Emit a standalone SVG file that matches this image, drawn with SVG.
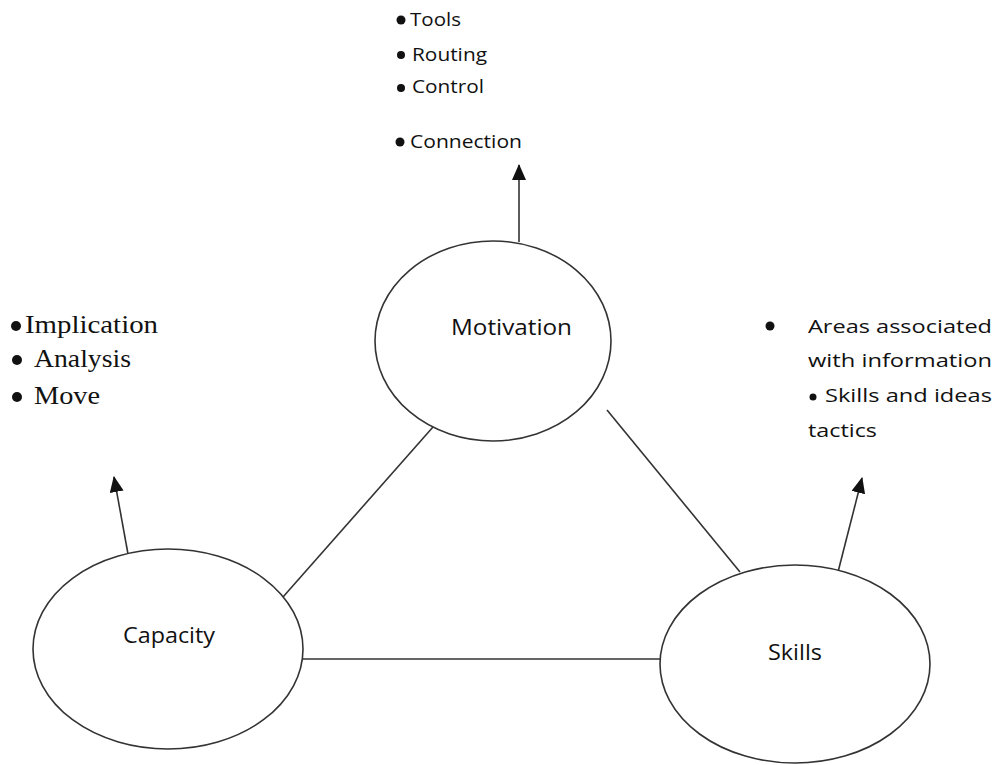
<svg xmlns="http://www.w3.org/2000/svg" width="996" height="765" viewBox="0 0 996 765">
<style>
.node{fill:#fff;stroke:#333;stroke-width:1.6}
.conn{stroke:#333;stroke-width:1.6;fill:none}
.lbl{font-family:"Open Sans","Noto Sans",sans-serif;font-size:21px;fill:#111}
.sans{font-family:"Open Sans","Noto Sans",sans-serif;font-size:19px;fill:#111}
.serif{font-family:"Liberation Serif","DejaVu Serif",serif;font-size:25px;fill:#111}
</style>
<defs>
<marker id="arr" viewBox="0 0 10 10" refX="9" refY="5" markerWidth="8" markerHeight="8" markerUnits="userSpaceOnUse" orient="auto">
<path d="M0,0 L10,5 L0,10 z" fill="#111"/>
</marker>
<marker id="arrow" viewBox="0 0 16 14" refX="15" refY="7" markerWidth="16" markerHeight="14" markerUnits="userSpaceOnUse" orient="auto">
<path d="M0,0 L16,7 L0,14 z" fill="#111"/>
</marker>
</defs>
<g id="connectors">
<line class="conn" x1="433" y1="427" x2="283" y2="597"/>
<line class="conn" x1="607" y1="410" x2="740" y2="572"/>
<line class="conn" x1="303" y1="659" x2="660" y2="659"/>
<line class="conn" x1="519" y1="242" x2="519" y2="165" marker-end="url(#arrow)"/>
<line class="conn" x1="128" y1="554" x2="114" y2="477" marker-end="url(#arrow)"/>
<line class="conn" x1="838" y1="572" x2="862" y2="478" marker-end="url(#arrow)"/>
</g>
<g id="motivation">
<ellipse class="node" cx="493" cy="341" rx="118" ry="100"/>
<text class="lbl" x="451" y="335" textLength="121" lengthAdjust="spacingAndGlyphs">Motivation</text>
</g>
<g id="capacity">
<ellipse class="node" cx="168" cy="649" rx="135" ry="100"/>
<text class="lbl" x="123" y="643" textLength="92" lengthAdjust="spacingAndGlyphs">Capacity</text>
</g>
<g id="skills">
<ellipse class="node" cx="795" cy="664" rx="135" ry="99"/>
<text class="lbl" x="768" y="660" textLength="54" lengthAdjust="spacingAndGlyphs">Skills</text>
</g>
<g id="motivation-list">
<circle cx="401" cy="20" r="4.5" fill="#111"/>
<text class="sans" x="410" y="26" textLength="51" lengthAdjust="spacingAndGlyphs">Tools</text>
<circle cx="401" cy="55" r="4" fill="#111"/>
<text class="sans" x="412" y="61" textLength="75" lengthAdjust="spacingAndGlyphs">Routing</text>
<circle cx="401" cy="88" r="4" fill="#111"/>
<text class="sans" x="412" y="93" textLength="72" lengthAdjust="spacingAndGlyphs">Control</text>
<circle cx="400" cy="142" r="4.5" fill="#111"/>
<text class="sans" x="410" y="148" textLength="112" lengthAdjust="spacingAndGlyphs">Connection</text>
</g>
<g id="capacity-list">
<circle cx="16" cy="326" r="5" fill="#111"/>
<text class="serif" x="25" y="333" textLength="133" lengthAdjust="spacingAndGlyphs">Implication</text>
<circle cx="17" cy="360" r="5" fill="#111"/>
<text class="serif" x="34" y="367" textLength="97" lengthAdjust="spacingAndGlyphs">Analysis</text>
<circle cx="17" cy="397" r="5" fill="#111"/>
<text class="serif" x="34" y="404" textLength="66" lengthAdjust="spacingAndGlyphs">Move</text>
</g>
<g id="skills-list">
<circle cx="770" cy="326" r="4.5" fill="#111"/>
<text class="sans" x="808" y="333" textLength="184" lengthAdjust="spacingAndGlyphs">Areas associated</text>
<text class="sans" x="808" y="367" textLength="184" lengthAdjust="spacingAndGlyphs">with information</text>
<circle cx="813" cy="397" r="3.5" fill="#111"/>
<text class="sans" x="825" y="402" textLength="167" lengthAdjust="spacingAndGlyphs">Skills and ideas</text>
<text class="sans" x="808" y="437" textLength="69" lengthAdjust="spacingAndGlyphs">tactics</text>
</g>
</svg>
